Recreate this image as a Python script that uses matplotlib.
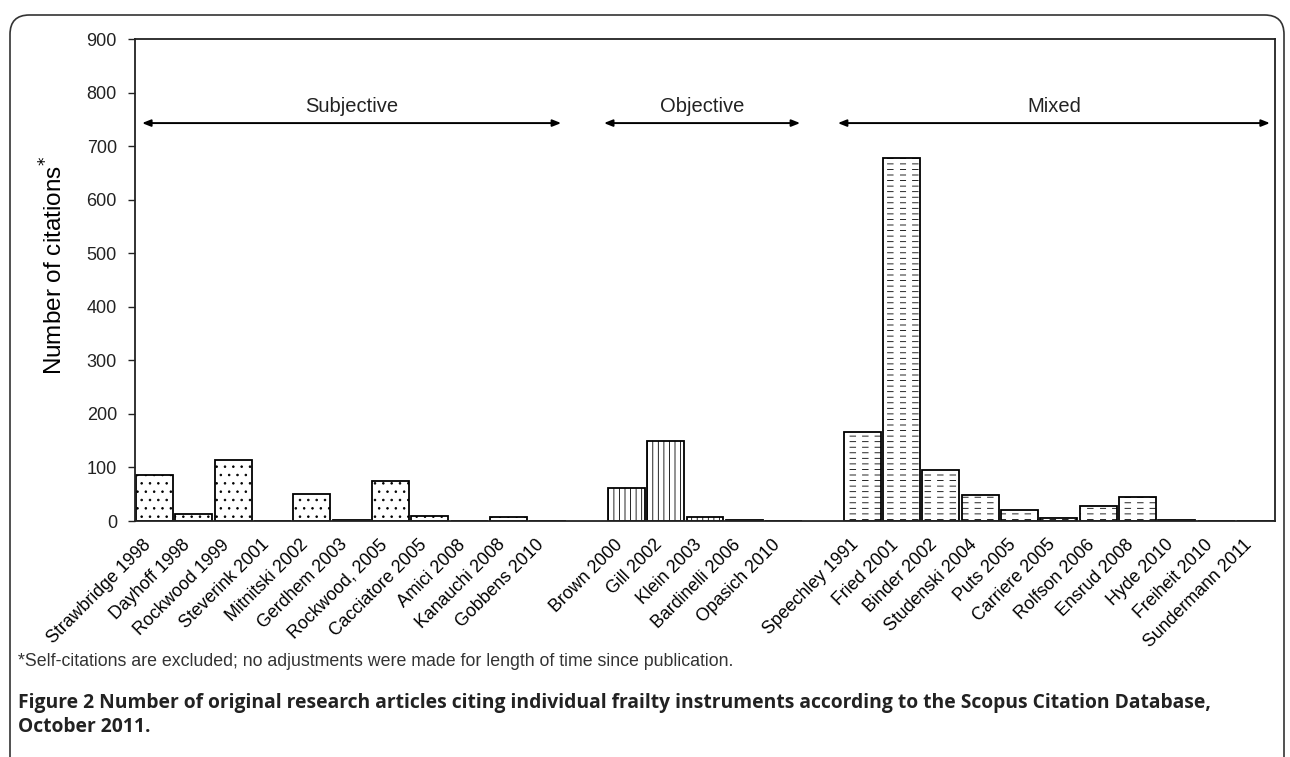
import numpy as np
import matplotlib
matplotlib.use("Agg")
import matplotlib.pyplot as plt
import matplotlib.hatch as mhatch
from matplotlib.path import Path
from matplotlib.patches import FancyBboxPatch

# citation counts
subjective = ['Strawbridge 1998', 'Dayhoff 1998', 'Rockwood 1999', 'Steverink 2001',
              'Mitnitski 2002', 'Gerdhem 2003', 'Rockwood, 2005', 'Cacciatore 2005',
              'Amici 2008', 'Kanauchi 2008', 'Gobbens 2010']
subjective_vals = [86, 13, 114, 0, 51, 2, 74, 10, 0, 8, 0]

objective = ['Brown 2000', 'Gill 2002', 'Klein 2003', 'Bardinelli 2006', 'Opasich 2010']
objective_vals = [62, 149, 8, 2, 0]

mixed = ['Speechley 1991', 'Fried 2001', 'Binder 2002', 'Studenski 2004', 'Puts 2005',
         'Carriere 2005', 'Rolfson 2006', 'Ensrud 2008', 'Hyde 2010', 'Freiheit 2010',
         'Sundermann 2011']
mixed_vals = [167, 678, 96, 49, 21, 5, 28, 44, 1, 0, 0]

group_names = ['Subjective', 'Objective', 'Mixed']


# dashed horizontal hatch (the original uses short dashes, not full lines)
class DashHatch(mhatch.HatchPatternBase):
    def __init__(self, hatch, density):
        self.num_lines = int((hatch.count('-') + hatch.count('+')) * density)
        self.num_dashes = 8
        self.num_vertices = self.num_lines * self.num_dashes * 2

    def set_vertices_and_codes(self, vertices, codes):
        rows = (np.arange(self.num_lines) + 0.5) / self.num_lines
        starts = np.arange(self.num_dashes) / self.num_dashes
        x0 = np.tile(starts, self.num_lines)
        y = np.repeat(rows, self.num_dashes)
        vertices[0::2, 0] = x0
        vertices[0::2, 1] = y
        vertices[1::2, 0] = x0 + 0.45 / self.num_dashes
        vertices[1::2, 1] = y
        codes[0::2] = Path.MOVETO
        codes[1::2] = Path.LINETO


mhatch._hatch_types[0] = DashHatch

plt.rcParams['font.family'] = ['Liberation Sans', 'DejaVu Sans']
plt.rcParams['hatch.linewidth'] = 0.6

fig = plt.figure(figsize=(12.9, 7.57), dpi=100)
ax = fig.add_axes([135 / 1290, 1 - 521 / 757, 1140 / 1290, 482 / 757])

groups = [(subjective, subjective_vals, '..'),
          (objective, objective_vals, '|||'),
          (mixed, mixed_vals, '---')]

labels = []
positions = []
spans = []
pos = 0
for names, vals, hatch in groups:
    x = np.arange(pos, pos + len(names))
    ax.bar(x, vals, width=0.94, color='white', edgecolor='black',
           linewidth=1.3, hatch=hatch)
    labels += names
    positions += list(x)
    spans.append((x[0], x[-1]))
    pos += len(names) + 1

ax.set_xlim(-0.5, positions[-1] + 0.5)
ax.set_ylim(0, 900)
ax.set_yticks(range(0, 901, 100))
ax.set_xticks(positions)
ax.set_xticklabels(labels, rotation=45, ha='right', va='top', fontsize=12.8,
                   rotation_mode='default')
ax.tick_params(axis='x', length=0, pad=11)
ax.tick_params(axis='y', length=5, width=1, labelsize=13, pad=8, colors='#222222')
for s in ax.spines.values():
    s.set_linewidth(1.3)
    s.set_color('#222222')

ax.set_ylabel('Number of citations$^{*}$', fontsize=17.5, labelpad=14, y=0.53)

# group arrows
arrow_pad = [(0.32, 0.34), (0.57, 0.42), (0.62, 0.37)]
for (a, b), (pl, pr), name in zip(spans, arrow_pad, group_names):
    ax.annotate('', xy=(a - pl, 743), xytext=(b + pr, 743),
                arrowprops=dict(arrowstyle='<|-|>,head_length=0.5,head_width=0.2',
                                color='black', lw=1.4, shrinkA=0, shrinkB=0))
    ax.text((a - pl + b + pr) / 2, 774, name, ha='center', va='center', fontsize=14.5,
            color='#222222')

fig.text(18 / 1290, 1 - 661 / 757,
         '*Self-citations are excluded; no adjustments were made for length of time since publication.',
         fontsize=12.8, color='#333333', va='center', ha='left')
fig.text(18 / 1290, 1 - 703 / 757,
         'Figure 2 Number of original research articles citing individual frailty instruments '
         'according to the Scopus Citation Database,',
         fontsize=13.9, fontweight='bold', family=['Open Sans', 'DejaVu Sans'],
         color='#222222', va='center', ha='left')
fig.text(18 / 1290, 1 - 727 / 757, 'October 2011.',
         fontsize=13.9, fontweight='bold', family=['Open Sans', 'DejaVu Sans'],
         color='#222222', va='center', ha='left')

frame = FancyBboxPatch((10 / 1290, -0.05), 1274 / 1290, 1.05 - 15 / 757,
                       boxstyle='round,pad=0,rounding_size=0.015',
                       transform=fig.transFigure, fill=False,
                       edgecolor='#333333', linewidth=1.2, mutation_aspect=1290 / 757)
fig.patches.append(frame)

fig.savefig('out.png', dpi=100)
